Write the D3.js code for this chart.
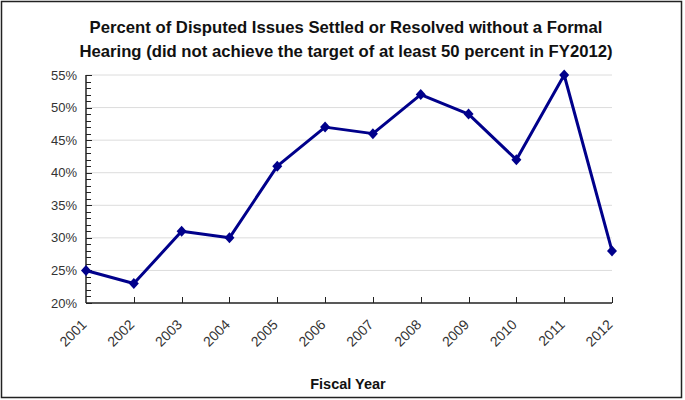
<!DOCTYPE html>
<html><head><meta charset="utf-8">
<script src="https://cdn.jsdelivr.net/npm/d3@7"></script>
<style>body{margin:0;background:#fff}svg{display:block;font-family:"Liberation Sans",Arial,sans-serif}</style>
</head><body>
<svg id="c" width="685" height="400"></svg>
<script>
const years = ["2001","2002","2003","2004","2005","2006","2007","2008","2009","2010","2011","2012"];
const values = [25, 23, 31, 30, 41, 47, 46, 52, 49, 42, 55, 28];
const yTicks = [20, 25, 30, 35, 40, 45, 50, 55];
const titleLines = ["Percent of Disputed Issues Settled or Resolved without a Formal","Hearing (did not achieve the target of at least 50 percent in FY2012)"];
const xTitle = "Fiscal Year";

const svg = d3.select("#c");
const L = 86, R = 612, T = 75, B = 303;
svg.append("rect").attr("x",1.5).attr("y",1.5).attr("width",680).attr("height",396)
  .attr("fill","#fff").attr("stroke","#222").attr("stroke-width",1.5);

const x = d3.scalePoint().domain(years).range([L, R]);
const y = d3.scaleLinear().domain([20, 55]).range([B, T]);

// gridlines
svg.append("g").selectAll("line").data(yTicks.filter(d=>d>20)).join("line")
  .attr("x1",L).attr("x2",R).attr("y1",d=>y(d)).attr("y2",d=>y(d))
  .attr("stroke","#dcdcdc").attr("stroke-width",1);

// y axis
const yMinor = d3.range(20, 56, 1);
const ya = svg.append("g").attr("transform",`translate(${L},0)`);
ya.append("line").attr("x1",0).attr("x2",0).attr("y1",T).attr("y2",B).attr("stroke","#222").attr("stroke-width",1.5);
ya.selectAll("line.mn").data(yMinor).join("line").attr("class","mn")
  .attr("x1",0).attr("x2",d=>d%5===0?6:5).attr("y1",d=>Math.round(y(d))+0.5).attr("y2",d=>Math.round(y(d))+0.5)
  .attr("stroke","#222").attr("stroke-width",1);
ya.selectAll("text").data(yTicks).join("text")
  .attr("x",-9).attr("y",d=>y(d)).attr("dy","0.35em").attr("text-anchor","end")
  .attr("font-size",13).attr("fill","#333").text(d=>d+"%");

// x axis
const xa = svg.append("g");
xa.append("line").attr("x1",L).attr("x2",R).attr("y1",B).attr("y2",B).attr("stroke","#222").attr("stroke-width",1.5);
xa.selectAll("line.t").data(years.slice(1)).join("line").attr("class","t")
  .attr("x1",d=>Math.round(x(d))+0.5).attr("x2",d=>Math.round(x(d))+0.5).attr("y1",B).attr("y2",B-6)
  .attr("stroke","#222").attr("stroke-width",1);
xa.selectAll("text").data(years).join("text")
  .attr("transform",d=>`translate(${x(d)-2},${B+19}) rotate(-45)`)
  .attr("text-anchor","end").attr("dy","0.35em")
  .attr("font-size",14).attr("fill","#333").text(d=>d);

// line
const data = years.map((yr,i)=>({yr, v: values[i]}));
svg.append("path").datum(data)
  .attr("d", d3.line().x(d=>x(d.yr)).y(d=>y(d.v)))
  .attr("fill","none").attr("stroke","#00008b").attr("stroke-width",3).attr("stroke-linejoin","round");
svg.append("g").selectAll("path").data(data).join("path")
  .attr("transform",d=>`translate(${x(d.yr)},${y(d.v)})`)
  .attr("d","M0,-5.5L5,0L0,5.5L-5,0Z").attr("fill","#00008b");

// titles
svg.append("g").selectAll("text").data(titleLines).join("text")
  .attr("x",346).attr("y",(d,i)=>33+i*24).attr("text-anchor","middle")
  .attr("font-size",16.7).attr("font-weight","bold").attr("fill","#111").text(d=>d);
svg.append("text").attr("x",348).attr("y",389).attr("text-anchor","middle")
  .attr("font-size",14.5).attr("font-weight","bold").attr("fill","#111").text(xTitle);
</script>
</body></html>
